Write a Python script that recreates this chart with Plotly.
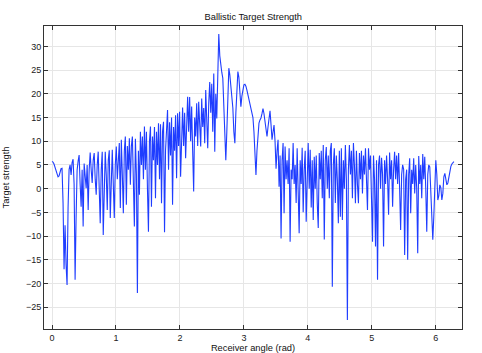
import numpy as np
import plotly.graph_objects as go

# Target strength values sampled uniformly over the receiver angle 0..2*pi
target_strength = [
    5.7, 5.6, 5.2, 4.6, 3.8, 3.0, 2.5, 2.7, 3.4, 4.2,
    4.3, -3, -17.0, -7.7, -16, -20.3, -4, 4.0, 5.0, 2.9,
    5.5, 6.2, 1, -19.2, -6, 3.9, 5.8, 7.1, 1, -3.8,
    4, -8.0, 5.3, 3, 0.1, 5, -4.5, 4, 7.6, 4,
    1.2, 6, 7.5, 2, -1.3, 5, 7.8, 0, -7.3, 4,
    7.8, -9.8, 2, 7.8, 3, -4.5, 6, 8.1, -6.2, 3,
    8.2, 1, -6.2, 5, 8.9, 2, 7, 9.6, -4.1, 10.3,
    3, -5.2, 8, 11.0, -3.4, 9, 4, 10.6, 0.8, 9,
    11, 2, -8.0, 10.5, 3, -22, 8, -1.3, 12.0, 5,
    11, 2, 13.1, 4, 12, 0, -9.1, 10, 13.1, -3.8,
    11, 6, 13, -2.0, 12, 5, 13.8, 2, 13.6, -3.1,
    12, 14.1, -9.2, 8, 13, 16.6, 4, 14, 7, 15,
    -3.4, 13, 8, 15.5, 2.2, 15.9, 9, 16.2, 2.5, 14,
    17.1, 9, 16, 6.4, 15, 19.4, 12, 19.3, 10, 17.3,
    8, -0.6, 15, 11, 18, 9, 18.3, 12, 8.9, 19,
    13, 17, 9.6, 20.8, 14, 8.5, 18, 22.5, 16, 22.1,
    12, 24.3, 7.8, 20, 14.8, 26, 32.6, 28, 25.4, 24.5,
    23.3, 16, 10.3, 6.0, 12, 20, 25.4, 24, 21.5, 20.1,
    17, 12, 9.6, 16, 22, 24.7, 23.5, 20.5, 17.3, 19.5,
    21.2, 21.9, 22.0, 21.6, 20.8, 19.8, 18.8, 17.6, 16.4, 15.5,
    15.0, 12, 7, 2.9, 8, 12.5, 13.8, 14.5, 14.9, 15.8,
    16.9, 15.8, 14, 12.3, 11, 13, 15.5, 16.4, 13.5, 10.3,
    12, 13.4, 10, 4.2, 8, 10.3, 0.4, 7, -10.5, 6,
    9.6, -5.2, 8.9, 2, 6, 1, 8.5, -11.2, 4, 2,
    9.6, 1, 5, -3, 8.5, 2, -9.4, 6, 1, 8.6,
    -5, 4, 8.0, -7.0, 5, 9.6, 0, 8.2, -4, 6,
    -6.6, 6.7, 0, 7, -3, -8.3, 7.5, 2, 8, -2,
    9.2, -10.7, 6, 8.8, 0, 7, -2, 8, 9.6, -20.7,
    5, 8.5, -3, 7, 2, -7.3, 8, -5.9, 8.5, -6.6,
    6, 0, 9.2, 2, -27.7, 4, 9.2, 3, 8, -2,
    9.6, 5, -3.1, 8, 1, -3.1, 7.5, 2, 8, -1,
    7, 3, 8.5, 0, -4.5, 8.5, 4, 7, -2, -11.2,
    7, 2, -12.2, 6, -19.2, 5, 7, 0, 6.5, 3,
    -12.2, 6, 1, 7, 2, -5.5, 7.6, 2, 6, -3.8,
    4, 7.8, 2, 7, 1, 7.5, 0, -8.7, 3, 5,
    4.1, -14, 2, 4, -15, 3, 6.4, -5.2, 4, 1,
    6.4, -1, 5, 0, -13.6, 6.9, 1, 5, -2, 7.3,
    2, 6.7, 0, -9.1, 3, 5.0, 4.6, -2, -5, -10.8,
    -6, 2, 6.0, 3, -2.4, -1.5, 0.8, 0.2, -2.4, -1,
    2.5, 3.2, 2, 0.8, 1.2, 2.5, 3.8, 4.7, 5.2, 5.5,
    5.7,
]
receiver_angle = np.linspace(0, 2 * np.pi, len(target_strength))

x_ticks = [0, 1, 2, 3, 4, 5, 6]
y_ticks = [-25, -20, -15, -10, -5, 0, 5, 10, 15, 20, 25, 30]

FONT = "Liberation Sans, Arial, sans-serif"

fig = go.Figure()
fig.add_trace(go.Scatter(
    x=receiver_angle, y=target_strength, mode="lines",
    line=dict(color="#1f3dff", width=1.1), showlegend=False,
))

axis_common = dict(
    showline=True, linecolor="#333333", linewidth=1, mirror="ticks",
    ticks="inside", ticklen=4, tickcolor="#333333", tickwidth=1,
    showgrid=True, gridcolor="#e6e6e6", gridwidth=1, zeroline=False,
    tickfont=dict(family=FONT, size=9, color="#222222"),
    automargin=False,
)

fig.update_layout(
    width=482, height=353,
    margin=dict(l=44, r=20, t=26, b=24),
    paper_bgcolor="white", plot_bgcolor="white",
    title=dict(text="Ballistic Target Strength", x=0.5255, xanchor="center",
               y=0.952, yanchor="middle",
               font=dict(family=FONT, size=9.3, color="#111111")),
    xaxis=dict(range=[-0.125, 6.41], tickvals=x_ticks,
               title=dict(text="Receiver angle (rad)", standoff=5,
                          font=dict(family=FONT, size=9.3, color="#111111")),
               **axis_common),
    yaxis=dict(range=[-29.6, 34.3], tickvals=y_ticks,
               title=dict(text="Target strength", standoff=14,
                          font=dict(family=FONT, size=9.3, color="#111111")),
               **axis_common),
)

fig.write_html("out.html")
